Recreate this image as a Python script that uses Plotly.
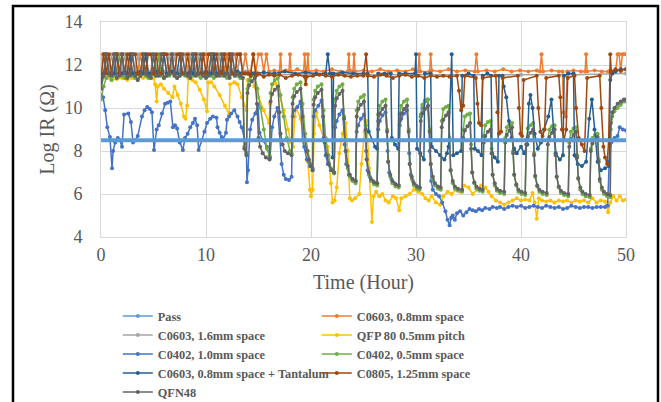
import plotly.graph_objects as go

# ---------------- data ----------------
# regular sampling grid used for the noisy "comb" period 0-14 h
comb_t = [round(0.25 * i, 2) for i in range(57)]

orange_comb = [11.6, 12.5, 12.5, 11.7, 11.7, 12.5, 11.7, 11.7, 12.5, 12.5,
               11.7, 12.5, 11.7, 11.7, 11.7, 12.5, 11.7, 12.5, 11.7, 11.7,
               12.5, 11.7, 11.7, 12.5, 12.5, 11.7, 11.7, 11.7, 12.5, 11.7,
               11.7, 12.5, 12.5, 11.7, 12.5, 11.7, 11.7, 12.5, 11.7, 12.5,
               12.5, 11.7, 11.7, 12.5, 11.7, 12.5, 12.5, 11.7, 12.5, 11.7,
               12.5, 12.5, 11.7, 12.5, 11.7, 12.5, 11.7]
orange_pts = [(14.25, 11.7), (14.5, 12.5), (14.75, 11.7), (15.0, 12.5), (15.25, 12.5), (15.5, 11.7),
              (15.75, 12.5), (16.0, 11.7), (16.5, 11.75), (17.0, 11.7), (17.1, 12.5), (17.2, 11.7),
              (17.6, 11.75), (17.9, 11.7), (18.0, 12.5), (18.1, 11.7), (18.7, 11.8), (19.3, 11.7),
              (19.4, 12.5), (19.5, 11.7), (19.6, 11.7), (19.7, 12.5), (19.8, 11.7), (20.5, 11.75),
              (21.2, 11.7), (22.0, 11.8), (22.8, 11.7), (23.5, 11.7), (23.6, 12.5), (23.7, 11.75),
              (24.0, 11.7), (24.1, 12.5), (24.2, 11.7), (25.0, 11.75), (25.8, 11.7), (26.6, 11.8),
              (27.4, 11.7), (28.2, 11.75), (29.0, 11.7), (29.7, 11.8), (30.2, 11.7), (30.3, 12.5),
              (30.4, 11.7), (31.3, 11.7), (31.4, 12.5), (31.5, 11.75), (32.3, 11.7), (33.1, 11.8),
              (33.9, 11.7), (34.7, 11.75), (35.6, 11.7), (35.75, 12.5), (35.9, 11.7), (36.7, 11.75),
              (37.5, 11.7), (38.3, 11.8), (39.1, 11.7), (39.9, 11.75), (40.7, 11.7), (41.5, 11.75),
              (41.8, 11.7), (41.95, 12.5), (42.1, 11.7), (42.9, 11.75), (43.6, 11.7), (43.95, 11.7),
              (44.05, 9.8), (44.25, 9.6), (44.4, 11.7), (45.0, 11.75), (45.7, 11.7), (46.1, 11.7),
              (46.2, 12.5), (46.3, 11.7), (47.0, 11.75), (47.7, 11.7), (48.3, 11.7), (48.5, 11.75),
              (49.0, 11.7), (49.2, 12.5), (49.35, 12.5), (49.5, 11.7), (49.65, 12.5), (49.8, 12.5),
              (50.0, 12.5)]

lgray_comb = [11.5, 12.5, 11.7, 11.7, 12.5, 11.7, 12.5, 11.7, 11.7, 12.5,
              11.7, 11.7, 12.5, 11.7, 12.5, 11.7, 11.7, 12.5, 11.7, 11.7,
              12.5, 11.7, 12.5, 11.7, 11.7, 11.7, 12.5, 11.7, 12.5, 11.7,
              11.7, 12.5, 11.7, 11.7, 12.5, 11.7, 11.7, 12.5, 11.7, 12.5,
              11.7, 11.7, 12.5, 11.7, 11.7, 12.5, 11.7, 12.5, 11.7, 11.7,
              12.5, 11.7, 11.7, 12.5, 11.7, 11.7, 11.6]
lgray_pts = [(15.0, 11.55), (20.0, 11.55), (25.0, 11.55), (30.0, 11.55), (35.0, 11.55),
             (40.0, 11.55), (45.0, 11.55), (50.0, 11.6)]

qfp_pts = [(0.0, 12.5), (0.15, 11.5), (0.5, 11.4), (1.0, 11.3), (1.5, 11.35), (2.0, 11.4), (2.5, 11.3),
           (3.0, 11.4), (3.5, 11.45), (4.0, 11.4), (4.5, 11.45), (5.0, 11.4), (5.15, 11.1), (5.3, 10.3),
           (5.4, 11.0), (5.7, 11.1), (6.0, 10.9), (6.4, 10.7), (6.8, 10.5), (7.0, 11.0), (7.3, 10.6),
           (7.6, 10.2), (7.9, 9.6), (8.05, 9.5), (8.2, 10.1), (8.3, 11.4), (8.7, 11.3), (9.0, 11.2),
           (9.4, 10.85), (9.8, 10.4), (10.1, 9.85), (10.2, 11.2), (10.5, 11.2), (10.8, 11.0),
           (11.3, 10.6), (11.8, 10.1), (12.2, 9.7), (12.3, 11.1), (12.7, 11.2), (13.0, 11.1),
           (13.4, 10.5), (13.85, 9.9), (13.95, 11.3), (14.25, 11.45), (14.6, 11.0), (15.0, 10.5),
           (15.5, 9.9), (16.0, 9.3), (16.1, 10.2), (16.3, 11.1), (16.6, 11.15), (17.0, 10.6),
           (17.4, 9.9), (17.8, 9.0), (18.1, 8.4), (18.3, 8.2), (18.45, 9.6), (18.6, 10.0), (19.0, 9.5),
           (19.4, 8.5), (19.7, 7.5), (19.9, 6.2), (20.0, 5.9), (20.15, 6.2), (20.3, 8.8), (20.5, 9.8),
           (20.8, 9.2), (21.2, 8.6), (21.6, 8.2), (21.9, 6.5), (22.05, 5.6), (22.25, 5.7), (22.45, 6.3),
           (22.7, 7.9), (23.0, 8.8), (23.3, 9.3), (23.5, 8.0), (23.7, 5.8), (23.9, 5.7), (24.2, 5.8),
           (24.6, 6.0), (24.8, 7.4), (25.1, 8.9), (25.3, 9.4), (25.55, 7.2), (25.8, 4.7), (25.95, 5.9),
           (26.2, 6.1), (26.5, 5.9), (26.8, 6.0), (27.1, 5.7), (27.4, 5.6), (27.8, 5.9), (28.1, 5.8),
           (28.4, 5.25), (28.6, 5.8), (29.0, 5.9), (29.4, 6.0), (29.8, 6.2), (30.2, 6.1), (30.6, 6.0),
           (30.9, 5.8), (31.2, 5.7), (31.5, 5.9), (31.9, 5.6), (32.3, 5.5), (32.6, 5.9), (33.0, 6.1),
           (33.4, 6.0), (33.8, 6.2), (34.2, 6.1), (34.6, 6.4), (35.0, 6.3), (35.4, 6.0), (35.8, 6.2),
           (36.2, 6.4), (36.6, 6.3), (36.9, 6.1), (37.2, 5.9), (37.6, 5.7), (38.0, 5.6), (38.4, 5.5),
           (38.8, 5.6), (39.2, 5.7), (39.6, 5.8), (40.0, 5.7), (40.4, 5.75), (40.8, 5.7), (41.1, 6.05),
           (41.3, 5.6), (41.5, 4.85), (41.7, 5.8), (42.0, 5.7), (42.4, 5.65), (42.8, 5.7), (43.2, 5.6),
           (43.6, 5.7), (44.0, 5.65), (44.4, 5.7), (44.8, 5.6), (45.2, 5.7), (45.6, 5.65), (46.0, 5.7),
           (46.4, 5.6), (46.8, 5.8), (47.2, 5.6), (47.6, 5.7), (48.0, 5.65), (48.3, 5.15), (48.5, 5.6),
           (48.8, 5.9), (49.1, 5.7), (49.4, 5.9), (49.7, 5.7), (50.0, 5.75)]

c0402_10_pts = [(0.0, 10.6), (0.2, 10.5), (0.4, 9.9), (0.6, 9.1), (0.85, 8.65), (1.05, 7.2), (1.15, 8.0),
                (1.35, 8.4), (1.6, 8.6), (1.8, 8.5), (2.0, 8.2), (2.2, 9.7), (2.6, 9.75), (2.85, 9.35),
                (3.05, 8.4), (3.25, 8.5), (3.5, 8.7), (3.9, 9.6), (4.15, 9.9), (4.4, 10.05), (4.65, 9.95),
                (4.85, 9.8), (5.05, 8.05), (5.3, 9.0), (5.5, 9.2), (5.8, 9.75), (6.1, 10.2), (6.35, 10.25),
                (6.6, 10.3), (6.85, 9.1), (7.05, 9.2), (7.25, 9.05), (7.5, 8.4), (7.8, 8.05), (8.0, 8.6),
                (8.25, 8.8), (8.5, 9.1), (8.75, 9.3), (8.95, 9.5), (9.15, 9.2), (9.3, 8.05), (9.6, 8.5),
                (9.85, 8.9), (10.1, 9.3), (10.4, 9.5), (10.65, 9.6), (11.0, 9.55), (11.1, 9.1),
                (11.3, 8.85), (11.5, 8.65), (11.6, 8.5), (11.9, 8.85), (12.0, 9.45), (12.2, 9.6),
                (12.4, 9.75), (12.7, 9.9), (13.0, 9.6), (13.2, 9.35), (13.4, 9.1), (13.7, 8.5),
                (13.85, 7.9), (13.9, 6.55), (14.0, 7.1), (14.2, 9.0), (14.4, 9.45), (14.7, 9.75),
                (14.95, 10.15), (15.1, 8.85), (15.4, 8.5), (15.8, 8.2), (16.1, 7.7), (16.3, 9.1),
                (16.5, 9.6), (16.8, 10.0), (17.05, 8.5), (17.2, 7.4), (17.4, 6.9), (17.6, 6.7),
                (17.9, 6.65), (18.15, 6.8), (18.25, 9.6), (18.4, 9.9), (18.7, 10.05), (19.0, 10.3),
                (19.2, 8.5), (19.35, 8.2), (19.6, 7.6), (19.9, 7.3), (20.15, 7.2), (20.25, 9.6),
                (20.4, 9.9), (20.7, 10.1), (21.0, 10.35), (21.2, 8.6), (21.4, 7.8), (21.6, 7.4),
                (21.9, 7.1), (22.2, 7.0), (22.3, 9.1), (22.45, 9.4), (22.7, 9.7), (23.0, 9.9), (23.2, 8.3),
                (23.35, 7.4), (23.6, 6.9), (23.9, 6.7), (24.25, 6.6), (24.35, 8.9), (24.5, 9.2),
                (24.75, 9.5), (25.05, 9.7), (25.25, 8.0), (25.4, 7.1), (25.6, 6.8), (25.9, 6.6),
                (26.3, 6.5), (26.4, 9.0), (26.55, 9.4), (26.8, 9.65), (27.1, 9.8), (27.3, 8.0),
                (27.45, 7.0), (27.65, 6.7), (27.95, 6.5), (28.35, 6.4), (28.45, 9.2), (28.6, 9.5),
                (28.85, 9.75), (29.15, 9.9), (29.35, 7.9), (29.5, 6.9), (29.7, 6.6), (30.0, 6.4),
                (30.35, 6.3), (30.45, 9.6), (30.6, 10.0), (30.85, 10.3), (31.1, 10.4), (31.3, 8.0),
                (31.45, 6.6), (31.6, 6.2), (31.9, 6.0), (32.2, 5.9), (32.5, 5.6), (32.8, 5.2), (33.0, 4.8),
                (33.2, 4.55), (33.35, 4.9), (33.5, 5.0), (33.7, 4.8), (33.9, 5.1), (34.2, 5.2), (34.5, 5.0),
                (34.8, 5.15), (35.1, 5.3), (35.4, 5.25), (35.7, 5.2), (36.0, 5.3), (36.3, 5.25),
                (36.6, 5.35), (37.0, 5.3), (37.3, 5.4), (37.7, 5.35), (38.0, 5.4), (38.4, 5.3), (38.8, 5.4),
                (39.2, 5.45), (39.6, 5.4), (40.0, 5.45), (40.4, 5.35), (40.8, 5.4), (41.2, 5.45),
                (41.6, 5.4), (42.0, 5.35), (42.4, 5.45), (42.8, 5.4), (43.2, 5.35), (43.6, 5.4), (44.0, 5.3),
                (44.4, 5.35), (44.8, 5.45), (45.2, 5.4), (45.6, 5.35), (46.0, 5.4), (46.4, 5.4),
                (46.8, 5.35), (47.2, 5.4), (47.6, 5.4), (48.0, 5.4), (48.25, 5.45), (48.4, 7.5), (48.6, 8.4),
                (48.9, 8.6), (49.2, 8.7), (49.4, 9.1), (49.7, 9.0), (50.0, 8.95)]

green_comb = [10.4, 11.0, 11.4, 11.5, 11.3, 11.5, 11.6, 12.5, 11.5, 11.4,
              11.5, 11.6, 11.5, 11.4, 11.3, 11.5, 11.6, 11.5, 11.4, 11.5,
              11.6, 11.5, 12.5, 11.5, 11.4, 11.5, 11.5, 11.6, 11.5, 11.4,
              11.5, 11.6, 11.5, 11.5, 11.4, 11.5, 11.6, 11.5, 11.4, 11.5,
              11.5, 11.6, 11.5, 11.4, 11.5, 11.6, 11.5, 11.5, 11.4, 11.5,
              11.6, 11.5, 11.5, 11.4, 11.4]
green_pts = [(13.65, 8.2), (13.85, 7.9),
             (13.95, 10.9), (14.1, 11.3), (14.35, 11.5), (14.6, 11.6), (14.9, 10.9), (15.2, 10.0), (15.5, 9.0), (15.8, 8.1), (16.05, 7.8),
             (16.15, 10.7), (16.3, 11.1), (16.55, 11.3), (16.85, 11.4), (17.1, 10.6), (17.4, 9.6), (17.7, 8.6), (18.0, 8.0), (18.15, 7.9),
             (18.25, 10.5), (18.4, 10.9), (18.65, 11.1), (19.0, 11.2), (19.2, 10.2), (19.45, 8.8), (19.7, 8.0), (19.95, 7.4), (20.15, 7.1),
             (20.25, 10.4), (20.4, 10.8), (20.65, 11.0), (21.0, 11.1), (21.2, 9.9), (21.4, 8.6), (21.65, 7.8), (21.9, 7.2), (22.2, 6.95),
             (22.3, 10.4), (22.45, 10.8), (22.7, 11.0), (23.0, 11.1), (23.15, 9.6), (23.3, 8.0), (23.5, 7.2), (23.7, 6.8), (23.95, 6.6), (24.25, 6.5),
             (24.35, 9.9), (24.5, 10.3), (24.75, 10.5), (25.05, 10.6), (25.2, 9.2), (25.3, 7.6), (25.5, 6.9), (25.7, 6.6), (26.0, 6.45), (26.3, 6.4),
             (26.4, 9.7), (26.55, 10.1), (26.8, 10.3), (27.1, 10.4), (27.25, 9.0), (27.35, 7.5), (27.55, 6.8), (27.75, 6.5), (28.05, 6.35), (28.35, 6.3),
             (28.45, 9.7), (28.6, 10.1), (28.85, 10.3), (29.15, 10.4), (29.3, 9.0), (29.4, 7.4), (29.6, 6.7), (29.8, 6.4), (30.1, 6.25), (30.35, 6.2),
             (30.45, 9.7), (30.6, 10.15), (30.85, 10.35), (31.15, 10.4), (31.3, 9.0), (31.4, 7.4), (31.6, 6.7), (31.8, 6.4), (32.1, 6.25), (32.35, 6.2),
             (32.45, 9.4), (32.6, 9.95), (32.85, 10.05), (33.1, 10.1), (33.2, 8.6), (33.3, 7.1), (33.5, 6.5), (33.7, 6.25), (34.0, 6.15), (34.4, 6.1),
             (34.5, 9.0), (34.65, 9.6), (34.9, 9.7), (35.15, 9.75), (35.25, 8.3), (35.35, 7.0), (35.55, 6.5), (35.75, 6.25), (36.05, 6.15), (36.35, 6.1),
             (36.45, 8.7), (36.6, 9.2), (36.85, 9.35), (37.1, 9.4), (37.2, 8.1), (37.3, 6.9), (37.5, 6.4), (37.7, 6.15), (38.0, 6.05), (38.4, 6.0),
             (38.5, 8.6), (38.65, 9.1), (38.9, 9.25), (39.15, 9.3), (39.25, 8.0), (39.35, 6.9), (39.55, 6.4), (39.75, 6.1), (40.05, 6.0), (40.4, 5.95),
             (40.5, 8.5), (40.65, 9.05), (40.9, 9.2), (41.15, 9.3), (41.25, 7.9), (41.35, 6.8), (41.55, 6.35), (41.75, 6.1), (42.05, 6.0), (42.45, 5.95),
             (42.55, 8.5), (42.7, 9.0), (42.95, 9.15), (43.2, 9.2), (43.3, 7.9), (43.4, 6.8), (43.6, 6.3), (43.8, 6.05), (44.1, 5.95), (44.5, 5.9),
             (44.6, 8.4), (44.75, 8.9), (45.0, 9.05), (45.25, 9.1), (45.35, 7.8), (45.45, 6.7), (45.65, 6.2), (45.85, 6.0), (46.15, 5.9), (46.55, 5.85),
             (46.65, 8.1), (46.8, 8.6), (47.05, 8.75), (47.3, 8.8), (47.4, 7.6), (47.5, 6.6), (47.7, 6.2), (47.9, 6.0), (48.2, 5.9), (48.5, 5.85),
             (48.55, 9.0), (48.7, 9.6), (48.9, 9.85), (49.2, 10.0), (49.5, 10.15), (49.8, 10.3), (50.0, 10.3)]

tant_comb = [11.2, 11.6, 12.5, 11.6, 11.6, 11.6, 12.5, 11.6, 11.6, 11.7,
             11.6, 12.5, 11.6, 11.6, 11.6, 11.7, 11.6, 12.5, 11.6, 11.6,
             11.6, 11.7, 11.6, 11.6, 12.5, 11.6, 11.6, 11.7, 11.6, 11.6,
             12.5, 11.6, 11.6, 11.6, 11.7, 11.6, 12.5, 11.6, 11.6, 11.6,
             11.7, 11.6, 11.6, 12.5, 11.6, 11.6, 11.7, 11.6, 11.6, 12.5,
             11.6, 11.6, 11.7, 11.6, 11.6, 11.6, 11.6]
tant_pts = [(14.5, 11.6), (15.5, 11.65), (16.5, 11.6), (17.5, 11.7), (18.5, 11.6), (19.5, 11.65),
            (20.5, 11.6), (21.4, 11.6), (21.6, 12.5), (21.8, 11.6), (21.95, 11.6), (22.05, 7.7),
            (22.15, 11.6), (23.0, 11.65), (24.0, 11.6), (25.0, 11.6), (25.4, 11.6), (25.5, 8.9),
            (25.8, 8.5), (26.1, 8.2), (26.3, 8.1), (26.4, 11.6), (27.0, 11.6), (27.6, 11.6), (27.7, 8.6),
            (28.0, 8.3), (28.3, 8.1), (28.4, 11.6), (29.0, 11.6), (29.9, 11.6), (30.0, 12.5), (30.1, 8.1),
            (30.4, 7.9), (30.75, 7.6), (30.85, 11.6), (31.4, 11.6), (31.5, 8.2), (31.9, 8.0), (32.3, 7.8),
            (32.7, 7.6), (32.95, 7.9), (33.1, 8.2), (33.4, 12.5), (33.55, 7.8), (33.9, 7.9), (34.3, 8.0),
            (34.4, 11.5), (35.0, 11.6), (35.5, 11.5), (35.6, 8.1), (35.9, 8.0), (36.25, 7.8), (36.35, 11.5),
            (36.8, 11.6), (37.15, 11.5), (37.25, 7.9), (37.5, 7.7), (37.8, 7.5), (37.9, 11.5), (38.25, 11.5),
            (38.35, 11.0), (38.6, 10.5), (38.85, 9.4), (39.1, 8.6), (39.35, 8.1), (39.6, 7.9), (40.0, 8.2),
            (40.3, 7.9), (40.6, 8.3), (40.75, 10.2), (40.9, 10.6), (41.1, 10.0), (41.3, 8.8), (41.6, 8.1),
            (41.9, 8.4), (42.2, 9.0), (42.6, 9.6), (42.9, 10.4), (43.1, 9.0), (43.3, 7.9), (43.7, 7.6),
            (44.0, 7.8), (44.1, 11.5), (44.5, 11.6), (45.0, 11.6), (45.1, 7.8), (45.4, 7.4), (45.8, 7.3),
            (46.2, 7.5), (46.5, 9.5), (46.75, 10.4), (47.0, 9.0), (47.3, 7.5), (47.6, 7.1), (48.0, 7.2),
            (48.4, 7.3), (48.5, 11.3), (48.7, 11.6), (49.0, 11.7), (49.5, 11.8), (50.0, 11.8)]

c0805_comb = [11.3, 12.5, 11.6, 12.5, 11.6, 12.5, 12.5, 11.6, 12.5, 11.6,
              12.5, 11.6, 12.5, 12.5, 11.6, 11.6, 12.5, 11.6, 12.5, 12.5,
              11.6, 12.5, 11.6, 11.6, 12.5, 12.5, 11.6, 12.5, 11.6, 12.5,
              12.5, 11.6, 11.6, 12.5, 11.6, 12.5, 12.5, 11.6, 11.6, 12.5,
              11.6, 12.5, 12.5, 11.6, 12.5, 11.6, 11.6, 12.5, 11.6, 12.5,
              11.6, 11.6, 12.5, 12.5, 11.6, 11.6, 11.6]
c0805_pts = [(14.25, 11.5), (14.5, 12.5), (14.75, 11.5), (15.0, 11.6), (15.5, 11.45), (16.0, 11.55),
             (16.5, 11.5), (17.0, 11.55), (17.6, 11.4), (18.2, 11.5), (18.8, 11.55), (19.4, 11.45),
             (19.5, 11.1), (19.6, 11.45), (20.2, 11.5), (20.8, 11.55), (21.4, 11.5), (22.0, 11.45),
             (22.6, 11.55), (23.2, 11.5), (23.8, 11.45), (24.4, 11.5), (25.0, 11.5), (25.25, 12.5),
             (25.4, 11.5), (26.0, 11.45), (26.6, 11.55), (27.2, 11.5), (27.8, 11.4), (28.4, 11.5),
             (29.0, 11.55), (29.6, 11.45), (30.2, 11.5), (30.8, 11.4), (31.4, 11.5), (32.0, 11.45),
             (32.6, 11.5), (33.2, 11.45), (33.9, 11.5), (34.1, 10.8), (34.3, 9.9), (34.5, 10.1),
             (34.65, 11.5), (35.7, 11.4), (35.85, 10.2), (36.0, 9.3), (36.2, 9.2), (36.35, 11.4),
             (37.6, 11.5), (37.75, 9.8), (37.9, 8.8), (38.1, 8.9), (38.25, 11.4), (39.7, 11.5),
             (39.8, 10.0), (39.95, 8.8), (40.1, 8.7), (40.25, 11.3), (41.5, 11.5), (41.65, 10.0),
             (41.85, 8.9), (42.05, 8.7), (42.25, 9.0), (42.4, 11.4), (43.6, 11.5), (43.75, 10.5),
             (43.9, 9.0), (44.1, 8.5), (44.3, 9.0), (44.45, 11.4), (45.1, 11.5), (45.25, 10.0),
             (45.5, 8.6), (45.8, 8.3), (46.05, 8.0), (46.3, 11.4), (47.5, 11.5), (47.65, 10.0),
             (47.85, 8.2), (48.0, 7.7), (48.2, 7.4), (48.35, 8.5), (48.5, 12.5), (48.6, 11.7),
             (49.0, 11.8), (49.5, 11.75), (50.0, 11.8)]

qfn48_comb = [10.9, 11.5, 12.5, 11.6, 11.5, 12.5, 11.4, 11.5, 12.5, 11.6,
              11.4, 11.5, 12.5, 11.5, 11.3, 11.5, 12.5, 11.6, 11.5, 11.4,
              12.5, 11.5, 11.5, 12.5, 11.4, 11.5, 11.6, 12.5, 11.5, 11.4,
              11.5, 12.5, 11.6, 11.5, 11.4, 12.5, 11.5, 11.6, 12.5, 11.5,
              11.4, 11.5, 12.5, 11.6, 11.5, 11.5, 12.5, 11.5, 11.6, 11.4,
              12.5, 11.5, 11.6, 11.5, 11.4]
qfn48_pts = [(13.65, 8.1), (13.85, 7.8),
             (13.95, 10.7), (14.1, 11.05), (14.35, 11.25), (14.65, 11.4), (14.85, 10.2), (15.0, 8.6), (15.15, 8.2), (15.4, 7.9), (15.7, 7.7), (16.05, 7.6),
             (16.15, 10.3), (16.3, 10.65), (16.55, 10.85), (16.85, 11.0), (17.0, 9.8), (17.1, 8.8), (17.3, 8.3), (17.5, 8.0), (17.8, 7.9), (18.15, 7.8),
             (18.25, 10.2), (18.4, 10.55), (18.65, 10.75), (19.0, 10.9), (19.2, 9.6), (19.4, 8.5), (19.6, 8.0), (19.8, 7.6), (20.0, 7.3), (20.15, 7.1),
             (20.25, 10.15), (20.4, 10.5), (20.65, 10.7), (21.0, 10.85), (21.15, 9.6), (21.3, 8.4), (21.5, 7.8), (21.7, 7.4), (21.95, 7.1), (22.2, 7.0),
             (22.3, 10.1), (22.45, 10.45), (22.7, 10.65), (23.0, 10.8), (23.15, 9.5), (23.3, 8.0), (23.5, 7.3), (23.7, 6.9), (23.95, 6.7), (24.25, 6.6),
             (24.35, 9.6), (24.5, 9.95), (24.75, 10.15), (25.05, 10.3), (25.2, 9.0), (25.3, 7.6), (25.5, 7.0), (25.7, 6.7), (26.0, 6.55), (26.3, 6.5),
             (26.4, 9.4), (26.55, 9.75), (26.8, 9.95), (27.1, 10.1), (27.25, 8.9), (27.35, 7.5), (27.55, 6.9), (27.75, 6.6), (28.05, 6.45), (28.35, 6.4),
             (28.45, 9.4), (28.6, 9.75), (28.85, 9.95), (29.15, 10.1), (29.3, 8.9), (29.4, 7.4), (29.6, 6.8), (29.8, 6.5), (30.1, 6.35), (30.35, 6.3),
             (30.45, 9.4), (30.6, 9.75), (30.85, 9.95), (31.15, 10.1), (31.3, 8.9), (31.4, 7.4), (31.6, 6.8), (31.8, 6.5), (32.1, 6.35), (32.35, 6.3),
             (32.45, 9.1), (32.6, 9.45), (32.85, 9.65), (33.1, 9.8), (33.2, 8.5), (33.3, 7.1), (33.5, 6.6), (33.7, 6.35), (34.0, 6.25), (34.4, 6.2),
             (34.5, 8.6), (34.65, 8.95), (34.9, 9.15), (35.15, 9.3), (35.25, 8.1), (35.35, 7.0), (35.55, 6.55), (35.75, 6.35), (36.05, 6.25), (36.35, 6.2),
             (36.45, 8.4), (36.6, 8.7), (36.85, 8.9), (37.1, 9.0), (37.2, 7.9), (37.3, 6.9), (37.5, 6.5), (37.7, 6.25), (38.0, 6.15), (38.4, 6.1),
             (38.5, 8.4), (38.65, 8.75), (38.9, 8.95), (39.15, 9.1), (39.25, 7.9), (39.35, 6.9), (39.55, 6.45), (39.75, 6.2), (40.05, 6.1), (40.4, 6.05),
             (40.5, 8.3), (40.65, 8.65), (40.9, 8.85), (41.15, 9.0), (41.25, 7.8), (41.35, 6.85), (41.55, 6.4), (41.75, 6.2), (42.05, 6.1), (42.45, 6.05),
             (42.55, 8.3), (42.7, 8.65), (42.95, 8.85), (43.2, 9.0), (43.3, 7.8), (43.4, 6.8), (43.6, 6.35), (43.8, 6.15), (44.1, 6.05), (44.5, 6.0),
             (44.6, 8.2), (44.75, 8.55), (45.0, 8.75), (45.25, 8.9), (45.35, 7.7), (45.45, 6.75), (45.65, 6.3), (45.85, 6.1), (46.15, 6.0), (46.55, 5.95),
             (46.65, 8.0), (46.8, 8.35), (47.05, 8.5), (47.3, 8.65), (47.4, 7.5), (47.5, 6.7), (47.7, 6.3), (47.9, 6.1), (48.2, 6.0), (48.5, 5.95),
             (48.55, 9.3), (48.7, 9.8), (48.9, 10.0), (49.2, 10.2), (49.5, 10.3), (49.8, 10.4), (50.0, 10.4)]

pass_t = [0, 50]
pass_v = [8.5, 8.5]

# ---------------- assemble ----------------
def unzip(pts):
    return [p[0] for p in pts], [p[1] for p in pts]

def comb_join(comb, pts):
    t2, v2 = unzip(pts)
    return comb_t[:len(comb)] + t2, comb + v2

series = []
x, y = comb_join(orange_comb, orange_pts)
series.append(("C0603, 0.8mm space", x, y, "#ED7D31", 2))
x, y = comb_join(lgray_comb, lgray_pts)
series.append(("C0603, 1.6mm space", x, y, "#A5A5A5", 3))
x, y = unzip(qfp_pts)
series.append(("QFP 80 0.5mm pitch", x, y, "#FFC000", 4))
x, y = unzip(c0402_10_pts)
series.append(("C0402, 1.0mm space", x, y, "#4472C4", 5))
x, y = comb_join(green_comb, green_pts)
series.append(("C0402, 0.5mm space", x, y, "#70AD47", 6))
x, y = comb_join(tant_comb, tant_pts)
series.append(("C0603, 0.8mm space + Tantalum", x, y, "#255E91", 7))
x, y = comb_join(c0805_comb, c0805_pts)
series.append(("C0805, 1.25mm space", x, y, "#9E480E", 8))
x, y = comb_join(qfn48_comb, qfn48_pts)
series.append(("QFN48", x, y, "#636363", 9))

fig = go.Figure()
for name, xs, ys, col, rank in series:
    fig.add_trace(go.Scatter(x=xs, y=ys, name=name, mode="lines+markers",
                             line=dict(color=col, width=1.5),
                             marker=dict(color=col, size=4),
                             legendrank=rank))
# Pass threshold line (thick, on top); its legend entry uses a thin swatch
fig.add_trace(go.Scatter(x=pass_t, y=pass_v, name="Pass", mode="lines",
                         line=dict(color="#5B9BD5", width=4), showlegend=False,
                         legendgroup="pass"))
fig.add_trace(go.Scatter(x=[None], y=[None], name="Pass", mode="lines+markers",
                         line=dict(color="#5B9BD5", width=1.5), marker=dict(color="#5B9BD5", size=4),
                         legendgroup="pass", legendrank=1))

font_fam = "Liberation Serif, Times New Roman, serif"
axis_common = dict(showgrid=True, gridcolor="#D9D9D9", gridwidth=1, zeroline=False,
                   showline=True, mirror=True, linecolor="#D9D9D9", linewidth=1,
                   tickcolor="rgba(0,0,0,0)",
                   tickfont=dict(family=font_fam, size=18, color="#595959"))

fig.update_layout(
    width=661, height=402,
    margin=dict(l=101, r=35, t=22, b=165, autoexpand=False),
    paper_bgcolor="white", plot_bgcolor="white",
    showlegend=True,
    xaxis=dict(range=[0, 50], dtick=10, tick0=0, ticks="outside", ticklen=1,
               title=dict(text="Time (Hour)", font=dict(family=font_fam, size=20, color="#595959"), standoff=11),
               **axis_common),
    yaxis=dict(range=[4, 14], dtick=2, tick0=4, ticks="outside", ticklen=14,
               title=dict(text="Log IR (Ω)", font=dict(family=font_fam, size=20, color="#595959"), standoff=4),
               **axis_common),
    legend=dict(orientation="h", x=0.032, xanchor="left", y=-0.3, yanchor="top",
                font=dict(family=font_fam, size=12.3, color="#595959", weight="bold"),
                entrywidth=154, entrywidthmode="pixels", itemwidth=30,
                bgcolor="rgba(0,0,0,0)", traceorder="normal"),
    shapes=[dict(type="rect", xref="paper", yref="paper",
                 x0=(13 - 101) / 525, x1=(658 - 101) / 525,
                 y0=-0.95, y1=(237 - 6) / 215,
                 line=dict(color="black", width=2.5), fillcolor="rgba(0,0,0,0)")],
)

fig.write_html("out.html")
